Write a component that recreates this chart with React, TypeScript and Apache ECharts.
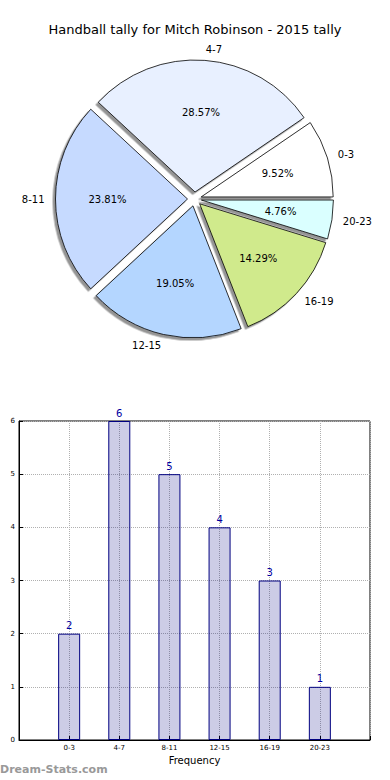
import React, { useEffect, useRef } from "react";
import * as echarts from "echarts";

const TITLE = "Handball tally for Mitch Robinson - 2015 tally";
const categories = ["0-3", "4-7", "8-11", "12-15", "16-19", "20-23"];
const counts = [2, 6, 5, 4, 3, 1];
const sliceColors = ["#FFFFFF", "#E8F0FF", "#C6DAFF", "#B4D6FF", "#D0EA8C", "#DAFFFF"];
const yTicks = [0, 1, 2, 3, 4, 5, 6];

const FONT = "DejaVu Sans";

export default function App() {
  const ref = useRef<HTMLDivElement>(null);
  useEffect(() => {
    if (!ref.current) return;
    const chart = echarts.init(ref.current, null, { renderer: "svg" });
    const R = 132;
    const CENTER = [194.5, 199];
    const pieData = categories.map((c, i) => ({
      name: c,
      value: counts[i],
      selected: true,
      itemStyle: { color: sliceColors[i] },
    }));
    const pctData = categories.map((c, i) => ({
      name: c,
      value: counts[i],
      selected: true,
    }));
    const xData = ["", ...categories, ""];
    const barData = counts.map((v, i) => [i + 1, v]);

    chart.setOption({
      animation: false,
      textStyle: { fontFamily: FONT },
      title: {
        text: TITLE,
        left: "center",
        top: 23,
        padding: 0,
        textStyle: { fontFamily: FONT, fontSize: 13, fontWeight: "normal", color: "#000" },
      },
      graphic: [
        {
          type: "text",
          left: 0,
          top: 764,
          style: {
            text: "Dream-Stats.com",
            fill: "#999",
            font: "bold 11px 'DejaVu Sans'",
          },
        },
      ],
      grid: {
        left: 19,
        right: 20,
        top: 421,
        bottom: 40,
        containLabel: false,
        outerBoundsMode: "none",
        show: true,
        borderColor: "#000",
        borderWidth: 1,
        backgroundColor: "transparent",
      },
      xAxis: {
        type: "category",
        data: xData,
        boundaryGap: false,
        name: "Frequency",
        nameLocation: "middle",
        nameGap: 15,
        nameTextStyle: { fontFamily: FONT, fontSize: 10, color: "#000" },
        axisLine: { show: true, lineStyle: { color: "#000" } },
        axisTick: { show: true, inside: true, length: 4, interval: 0, lineStyle: { color: "#000" } },
        axisLabel: { interval: 0, fontFamily: FONT, fontSize: 7, color: "#000", margin: 4 },
        splitLine: { show: true, interval: 0, lineStyle: { color: "#b0b0b0", type: "dotted", width: 1 } },
      },
      yAxis: {
        type: "value",
        min: 0,
        max: 6,
        interval: 1,
        name: "Stat Intervals",
        nameLocation: "middle",
        nameGap: 11,
        nameTextStyle: { fontFamily: FONT, fontSize: 10, color: "#000" },
        axisLine: { show: true, lineStyle: { color: "#000" } },
        axisTick: { show: true, inside: true, length: 4, lineStyle: { color: "#000" } },
        axisLabel: {
          fontFamily: FONT,
          fontSize: 7,
          color: "#000",
          margin: 4,
          formatter: (v: number) => (yTicks.includes(v) ? String(v) : ""),
        },
        splitLine: { show: true, lineStyle: { color: "#b0b0b0", type: "dotted", width: 1 } },
      },
      series: [
        {
          type: "pie",
          center: CENTER,
          radius: [0, R],
          startAngle: 0,
          clockwise: false,
          selectedMode: "multiple",
          selectedOffset: 7,
          avoidLabelOverlap: false,
          silent: true,
          data: pieData,
          itemStyle: {
            borderColor: "#000",
            borderWidth: 0.8,
            shadowColor: "rgba(0,0,0,0.42)",
            shadowBlur: 0,
            shadowOffsetX: -2.5,
            shadowOffsetY: 2.5,
          },
          label: {
            show: true,
            position: "outside",
            formatter: "{b}",
            fontFamily: FONT,
            fontSize: 10,
            color: "#000",
            distanceToLabelLine: 0,
          },
          labelLine: { show: false, length: 11, length2: 0 },
          emphasis: { disabled: true },
        },
        {
          type: "pie",
          center: CENTER,
          radius: [0, 154],
          startAngle: 0,
          clockwise: false,
          selectedMode: "multiple",
          selectedOffset: 7,
          avoidLabelOverlap: false,
          silent: true,
          z: 5,
          data: pctData,
          itemStyle: { color: "rgba(0,0,0,0)", borderWidth: 0 },
          label: {
            show: true,
            position: "inside",
            formatter: (p: any) => p.percent.toFixed(2) + "%",
            fontFamily: FONT,
            fontSize: 10,
            color: "#000",
          },
          labelLine: { show: false },
          emphasis: { disabled: true },
        },
        {
          type: "bar",
          data: barData,
          barWidth: 22,
          itemStyle: {
            color: "rgba(0,0,128,0.2)",
            borderColor: "#000080",
            borderWidth: 1,
          },
          label: {
            show: true,
            position: "top",
            distance: 3,
            fontFamily: FONT,
            fontSize: 10,
            color: "#0000A0",
          },
          emphasis: { disabled: true },
        },
      ],
    });
    return () => chart.dispose();
  }, []);
  return (
    <div
      ref={ref}
      style={{ position: "absolute", left: 0, top: 0, width: 390, height: 780, background: "#fff" }}
    />
  );
}
